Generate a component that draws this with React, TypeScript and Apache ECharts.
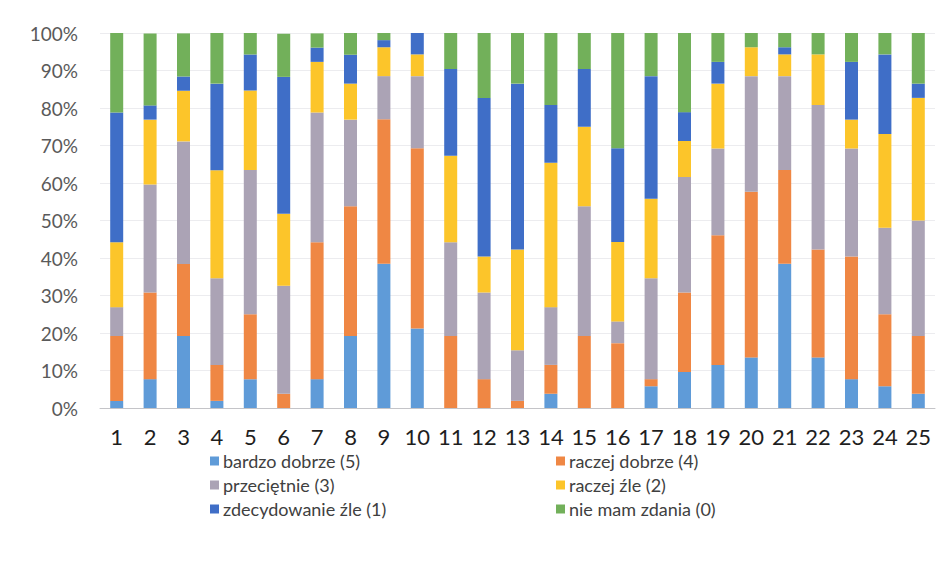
import React, { useEffect, useRef } from "react";
import * as echarts from "echarts";

const categories = ["1","2","3","4","5","6","7","8","9","10","11","12","13","14","15","16","17","18","19","20","21","22","23","24","25"];
const seriesNames = ["bardzo dobrze (5)","raczej dobrze (4)","przeciętnie (3)","raczej źle (2)","zdecydowanie źle (1)","nie mam zdania (0)"];
const bardzoDobrze = [1.9,7.7,19.2,1.9,7.7,0,7.7,19.2,38.5,21.2,0,0,0,3.8,0,0,5.8,9.6,11.5,13.5,38.5,13.5,7.7,5.8,3.8];
const raczejDobrze = [17.3,23.1,19.2,9.6,17.3,3.8,36.5,34.6,38.5,48.1,19.2,7.7,1.9,7.7,19.2,17.3,1.9,21.2,34.6,44.2,25.0,28.8,32.7,19.2,15.4];
const przecietnie = [7.7,28.8,32.7,23.1,38.5,28.8,34.6,23.1,11.5,19.2,25.0,23.1,13.5,15.4,34.6,5.8,26.9,30.8,23.1,30.8,25.0,38.5,28.8,23.1,30.8];
const raczejZle = [17.3,17.3,13.5,28.8,21.2,19.2,13.5,9.6,7.7,5.8,23.1,9.6,26.9,38.5,21.2,21.2,21.2,9.6,17.3,7.7,5.8,13.5,7.7,25.0,32.7];
const zdecydowanieZle = [34.6,3.8,3.8,23.1,9.6,36.5,3.8,7.7,1.9,5.8,23.1,42.3,44.2,15.4,15.4,25.0,32.7,7.7,5.8,0,1.9,0,15.4,21.2,3.8];
const nieMamZdania = [21.2,19.2,11.5,13.5,5.8,11.5,3.8,5.8,1.9,0,9.6,17.3,13.5,19.2,9.6,30.8,11.5,21.2,7.7,3.8,3.8,5.8,7.7,5.8,13.5];
const yTicks = [0,10,20,30,40,50,60,70,80,90,100];
const colors = ["#5f9bd8","#ef8744","#aba3b5","#fcc52a","#3f6ec7","#72b05a"];

export default function App() {
  const ref = useRef<HTMLDivElement>(null);
  useEffect(() => {
    if (!ref.current) return;
    const chart = echarts.init(ref.current, null, { renderer: "svg" });
    const values = [bardzoDobrze, raczejDobrze, przecietnie, raczejZle, zdecydowanieZle, nieMamZdania];
    const font = "Lato, 'Open Sans', sans-serif";
    const legendText = { color: "#404040", fontSize: 18, fontFamily: font, lineHeight: 20, padding: [0, 0, 0, -1] };
    chart.setOption({
      animation: false,
      backgroundColor: "#ffffff",
      color: colors,
      grid: { left: 100, right: 17, top: 33, bottom: 164, containLabel: false },
      xAxis: {
        type: "category",
        data: categories,
        axisTick: { show: false },
        axisLine: { lineStyle: { color: "#c4c4c8", width: 1 } },
        axisLabel: { color: "#1e1e1e", fontSize: 22, fontFamily: font, margin: 17, interval: 0 },
      },
      yAxis: {
        type: "value",
        min: 0,
        max: 100,
        interval: 10,
        axisLabel: {
          color: "#5a5a5a",
          fontSize: 19,
          fontFamily: font,
          margin: 22,
          formatter: (v: number) => (yTicks.includes(v) ? v + "%" : ""),
        },
        splitLine: { lineStyle: { color: "#ececef", width: 1 } },
        axisLine: { show: false },
        axisTick: { show: false },
      },
      legend: [
        {
          orient: "vertical",
          left: 205,
          top: 446,
          itemWidth: 9,
          itemHeight: 9,
          itemGap: 4,
          icon: "rect",
          textStyle: legendText,
          data: [seriesNames[0], seriesNames[2], seriesNames[4]],
        },
        {
          orient: "vertical",
          left: 551,
          top: 446,
          itemWidth: 9,
          itemHeight: 9,
          itemGap: 4,
          icon: "rect",
          textStyle: legendText,
          data: [seriesNames[1], seriesNames[3], seriesNames[5]],
        },
      ],
      graphic: [
        {
          type: "rect",
          shape: { x: 4.5, y: 6.5, width: 960, height: 562 },
          style: { fill: "none", stroke: "#c3c7da", lineWidth: 1 },
          silent: true,
          z: 100,
        },
      ],
      series: seriesNames.map((name, i) => ({
        name,
        type: "bar",
        stack: "total",
        barWidth: 13,
        data: values[i],
        itemStyle: { color: colors[i] },
      })),
    });
    return () => chart.dispose();
  }, []);
  return <div ref={ref} style={{ width: 952, height: 572, margin: -8 }} />;
}
